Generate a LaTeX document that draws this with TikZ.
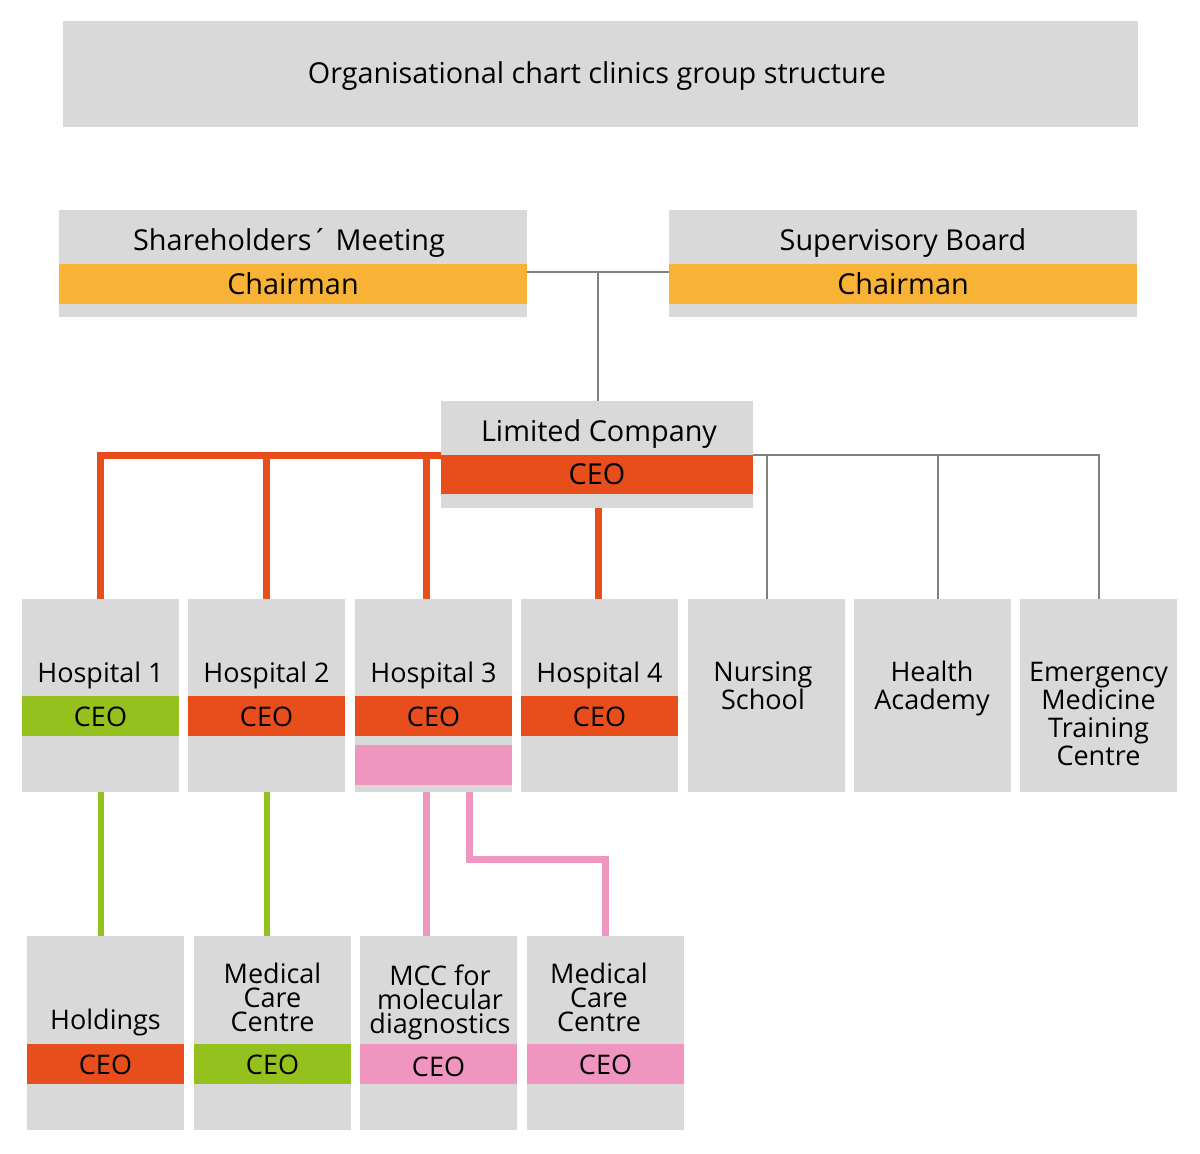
\documentclass[tikz,border=0pt]{standalone}
\usepackage{fontspec}
\setmainfont{Open Sans}
\usetikzlibrary{positioning}
\definecolor{boxgray}{RGB}{217,217,217}
\definecolor{chairorange}{RGB}{248,178,54}
\definecolor{ceored}{RGB}{232,78,27}
\definecolor{ceogreen}{RGB}{149,193,31}
\definecolor{ceopink}{RGB}{240,149,192}
\definecolor{linegray}{RGB}{128,128,128}

\begin{document}
\begin{tikzpicture}[
	x=0.5pt,y=-0.5pt,
	graybox/.style={
		fill=boxgray,
		inner sep=0pt,
		outer sep=0pt
	},
	unitbox/.style={
		graybox,
		minimum width=78.5pt,
		minimum height=96.5pt
	},
	lowbox/.style={
		graybox,
		minimum width=78.5pt,
		minimum height=97pt
	},
	band/.style={
		inner sep=0pt,
		outer sep=0pt,
		minimum height=20pt,
		text height=0.72em,
		text depth=0pt,
		font=\fontsize{13.5}{14}\selectfont
	},
	label/.style={
		align=center,
		inner sep=0pt,
		yshift=-1.5pt,
		text height=0.72em,
		text depth=0pt,
		font=\fontsize{13.5}{14}\selectfont
	},
	lines/.style={
		align=center,
		inner sep=0pt,
		font=\fontsize{13.5}{14}\selectfont
	},
	tightlines/.style={
		lines,
		font=\fontsize{13.5}{12}\selectfont
	},
	bigger/.style={font=\fontsize{14.4}{15}\selectfont},
	redline/.style={draw=ceored,line width=3.5pt},
	greenline/.style={draw=ceogreen,line width=3pt},
	pinkline/.style={draw=ceopink,line width=3.5pt},
	grayline/.style={draw=linegray,line width=1pt}
	]
	
	\useasboundingbox (0,0) rectangle (1200,1153);
	
	% Title
	\node[graybox,minimum width=537.5pt,minimum height=53pt] (title) at (600.5,74) {};
	\node[label,bigger] (titletext) at (597,73) {Organisational chart clinics group structure};
	
	% Top line
	\node[graybox,minimum width=234pt,minimum height=53.5pt] (sm) at (293,263.5) {};
	\node[label,bigger] (smtext) at (289,240) {Shareholders´ Meeting};
	\node[band,bigger,fill=chairorange,minimum width=234pt] (smchair) at (293,284) {\raisebox{-1.5pt}{Chairman}};
	
	\node[graybox,minimum width=234pt,minimum height=53.5pt] (sb) at (903,263.5) {};
	\node[label,bigger] (sbtext) at (903,240) {Supervisory Board};
	\node[band,bigger,fill=chairorange,minimum width=234pt] (sbchair) at (903,284) {\raisebox{-1.5pt}{Chairman}};
	
	% Limited company
	\node[graybox,minimum width=156pt,minimum height=53.5pt] (lc) at (597,454.5) {};
	\node[label,bigger] (lctext) at (599,431) {Limited Company};
	\node[band,bigger,fill=ceored,minimum width=156pt,minimum height=19.5pt] (lcceo) at (597,474.5) {\raisebox{-1.5pt}{CEO}};
	
	% Second line
	\node[unitbox] (h1) at (100.5,695.5) {};
	\node[label] (h1text) at (100.5,672) {Hospital 1};
	\node[band,fill=ceogreen,minimum width=78.5pt] (h1ceo) at (100.5,716) {\raisebox{-1.5pt}{CEO}};
	
	\node[unitbox] (h2) at (266.5,695.5) {};
	\node[label] (h2text) at (266.5,672) {Hospital 2};
	\node[band,fill=ceored,minimum width=78.5pt] (h2ceo) at (266.5,716) {\raisebox{-1.5pt}{CEO}};
	
	\node[unitbox] (h3) at (433.5,695.5) {};
	\node[label] (h3text) at (433.5,672) {Hospital 3};
	\node[band,fill=ceored,minimum width=78.5pt] (h3ceo) at (433.5,716) {\raisebox{-1.5pt}{CEO}};
	\node[band,fill=ceopink,minimum width=78.5pt] (h3sub) at (433.5,765) {};
	
	\node[unitbox] (h4) at (599.5,695.5) {};
	\node[label] (h4text) at (599.5,672) {Hospital 4};
	\node[band,fill=ceored,minimum width=78.5pt] (h4ceo) at (599.5,716) {\raisebox{-1.5pt}{CEO}};
	
	\node[unitbox] (ns) at (766.5,695.5) {};
	\node[lines] (nstext) at (763,686) {Nursing\\School};
	
	\node[unitbox] (ha) at (932,695.5) {};
	\node[lines] (hatext) at (932,688) {Health\\Academy};
	
	\node[unitbox] (em) at (1098.5,695.5) {};
	\node[lines] (emtext) at (1098.5,714) {Emergency\\Medicine\\Training\\Centre};
	
	% Third line
	\node[lowbox] (hold) at (105.5,1033) {};
	\node[label] (holdtext) at (105.5,1019) {Holdings};
	\node[band,fill=ceored,minimum width=78.5pt] (holdceo) at (105.5,1064) {\raisebox{-1.5pt}{CEO}};
	
	\node[lowbox] (mcca) at (272.5,1033) {};
	\node[tightlines] (mccatext) at (272.5,997) {Medical\\Care\\Centre};
	\node[band,fill=ceogreen,minimum width=78.5pt] (mccaceo) at (272.5,1064) {\raisebox{-1.5pt}{CEO}};
	
	\node[lowbox] (mol) at (438.5,1033) {};
	\node[tightlines] (moltext) at (440,1002) {MCC for\\molecular\\diagnostics};
	\node[band,fill=ceopink,minimum width=78.5pt] (molceo) at (438.5,1064) {\raisebox{-2.5pt}{CEO}};
	
	\node[lowbox] (mccb) at (605.5,1033) {};
	\node[tightlines] (mccbtext) at (599,997) {Medical\\Care\\Centre};
	\node[band,fill=ceopink,minimum width=78.5pt] (mccbceo) at (605.5,1064) {\raisebox{-1.5pt}{CEO}};
	
	% Board connection
	\coordinate (join) at (598,272);
	\draw[grayline] (sm.east |- join) -- (sb.west |- join);
	\draw[grayline] (join) -- (join |- lc.north);
	
	% Hospitals
	\draw[redline] (lcceo.north west) -| (h1.north);
	\draw[redline] (lcceo.north west) -| (h2.north);
	\draw[redline] (lcceo.north west) -| ([xshift=-3.75pt]h3.north);
	\draw[redline] ([xshift=0.5pt]lc.south) -- ([xshift=0.5pt]lc.south |- h4.north);
	
	% Schools
	\draw[grayline] (lcceo.north east) -| (ns.north);
	\draw[grayline] (lcceo.north east) -| ([xshift=3pt]ha.north);
	\draw[grayline] (lcceo.north east) -| (em.north);
	
	% Subsidiaries
	\draw[greenline] (h1.south) -- (h1.south |- hold.north);
	\draw[greenline] (h2.south) -- (h2.south |- mcca.north);
	\draw[pinkline] ([xshift=-3.75pt]h3.south) -- ([xshift=-3.75pt]h3.south |- mol.north);
	\draw[pinkline] ([xshift=17.75pt]h3.south) -- ++(0,67) -| (mccb.north);
	
\end{tikzpicture}
\end{document}
